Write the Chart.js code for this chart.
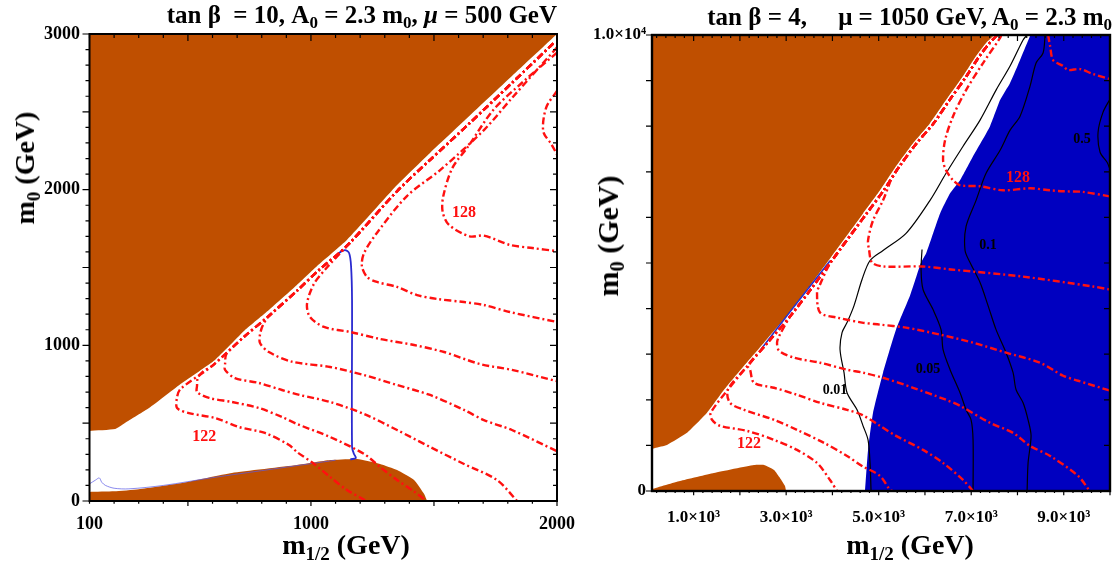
<!DOCTYPE html>
<html>
<head>
<meta charset="utf-8">
<script src="https://cdn.jsdelivr.net/npm/chart.js@4.4.1/dist/chart.umd.min.js"></script>
<style>
  html, body { margin: 0; padding: 0; background: #fff; }
  #wrap { position: relative; width: 1114px; height: 567px; overflow: hidden;
          font-family: "Liberation Serif", "Times New Roman", serif; font-weight: bold; color: #000; }
  canvas { position: absolute; top: 0; }
  .txt { position: absolute; white-space: pre; line-height: 1; }
  .txt sub { font-size: 68%; vertical-align: -0.3em; line-height: 0; }
  .rot { transform: translate(-50%, -50%) rotate(-90deg); }
</style>
</head>
<body>
<div id="wrap">
  <canvas id="left" width="600" height="567" style="left:0"></canvas>
  <canvas id="right" width="554" height="567" style="left:560px"></canvas>

  <div class="txt" style="right:557px; top:2px; font-size:25px">tan β  = 10, A<sub>0</sub> = 2.3 m<sub>0</sub>, <i>μ</i> = 500 GeV</div>
  <div class="txt" style="right:2px; top:4px; font-size:25px">tan β = 4,     μ = 1050 GeV, A<sub>0</sub> = 2.3 m<sub>0</sub></div>

  <div class="txt rot" style="left:25px; top:168px; font-size:28px">m<sub>0</sub> (GeV)</div>
  <div class="txt rot" style="left:608px; top:236px; font-size:30px">m<sub>0</sub> (GeV)</div>

  <div class="txt" style="left:346px; top:531px; font-size:28px; transform:translateX(-50%)">m<sub>1/2</sub> (GeV)</div>
  <div class="txt" style="left:910px; top:531px; font-size:28px; transform:translateX(-50%)">m<sub>1/2</sub> (GeV)</div>
</div>

<script>
const FONT = '"Liberation Serif", "Times New Roman", serif';
const BROWN = '#bf4f00';
const BLUE = '#0000c0';
const RED = '#ff1010';

// ---------- left panel: tan beta = 10, mu = 500 GeV ----------
const xTicksL = [100, 1000, 2000];
const yTicksL = [0, 1000, 2000, 3000];

const brownUpperL = [[100,450],[204,462],[244,501],[342,597],[476,758],[610,906],[732,1098],[829,1227],[943,1388],
  [1025,1510],[1146,1677],[1350,2030],[1484,2236],[1622,2441],[1817,2730],[2000,3000]];
const brownLowerL = [[100,58],[200,62],[300,76],[476,116],[679,180],[943,231],[1078,263],[1188,270],[1281,238],
  [1350,199],[1419,135],[1460,45],[1472,0]];

// red dash-dot line hugging the brown edge, from top right downwards
const edgeL = [[1985,2940],[1820,2690],[1630,2405],[1490,2200],[1350,1990],[1150,1645],[1030,1480],[943,1350],
  [830,1190],[732,1060],[600,870],[470,720]];
const tail122L = [[456,668],[456,597],[504,565],[610,533],[708,475],[813,437],[911,360],[943,315],[1013,238],
  [1078,154],[1146,71],[1226,0]];
const tail123L = [[560,830],[540,790],[537,740],[537,700],[586,662],[679,636],[789,597],[882,540],[943,495],
  [1078,411],[1216,302],[1281,218],[1350,135],[1420,60],[1470,0]];
const tail124L = [[680,985],[655,940],[651,880],[651,842],[691,790],[789,758],[882,713],[955,681],[1078,636],
  [1216,559],[1350,456],[1484,347],[1622,238],[1756,135],[1838,0]];
const tail125L = [[805,1130],[793,1070],[793,1015],[829,957],[923,895],[1078,861],[1216,809],[1350,745],
  [1484,681],[1622,585],[1703,520],[1817,456],[2000,320]];
const tail126L = [[1065,1500],[1012,1394],[984,1266],[996,1182],[1053,1118],[1159,1086],[1281,1041],[1419,1002],
  [1541,957],[1687,880],[1817,842],[2000,770]];
const c127L = [[2000,2914],[1817,2589],[1703,2383],[1525,2126],[1390,1959],[1268,1722],[1216,1593],[1207,1510],
  [1228,1439],[1268,1407],[1350,1375],[1431,1323],[1512,1298],[1622,1278],[1703,1259],[1808,1214],[2000,1150]];
const c128L = [[2000,2880],[1860,2690],[1740,2510],[1640,2280],[1575,2140],[1538,1960],[1535,1860],[1560,1775],
  [1645,1700],[1703,1705],[1808,1645],[1900,1625],[2000,1605]];
const c129L = [[2000,2634],[1956,2527],[1944,2376],[1978,2290],[2000,2226]];
const blueLineL = [[1100,1560],[1114,1593],[1138,1612],[1155,1593],[1163,1510],[1167,1291],[1167,347],
  [1175,302],[1183,276],[1160,268]];
const faintBlueL = [[100,110],[125,135],[140,148],[150,120],[165,100],[200,82],[260,78],[400,100],[600,150],
  [800,195],[1000,240],[1100,262]];
const redLabelsL = [['128', 1622, 1850], ['122', 566, 411]];

// ---------- right panel: tan beta = 4, mu = 1050 GeV ----------
const xTicksR = [1000, 3000, 5000, 7000, 9000];
const yTicksR = [0, 10000];

const brownUpperR = [[100,923],[165,945],[424,1011],[857,1275],[1289,1714],[1657,2220],[2089,2748],[2521,3253],
  [3019,3847],[3451,4418],[3884,5011],[4662,6088],[5029,6594],[5375,7122],[5743,7627],[6110,8067],[6456,8572],
  [6824,9100],[7105,9539],[7321,9825],[7500,10000]];
const brownLowerR = [[100,44],[705,220],[1440,396],[2305,571],[2521,571],[2738,462],[2867,286],[2975,110],[2997,0]];
const blueEdgeR = [[4705,0],[4770,901],[4878,1714],[5094,2594],[5375,3539],[5678,4286],[5916,5011],[6024,5209],
  [6175,5649],[6327,6088],[6543,6528],[6759,6814],[7040,7341],[7408,8001],[7624,8572],[7840,8946],[8056,9451],
  [8272,9979],[8290,10000],[10000,10000]];

const edgeR = [[7560,10000],[7400,9825],[7180,9539],[6900,9100],[6530,8572],[6190,8067],[5820,7627],[5450,7122],
  [5110,6594],[4740,6088],[3960,5011],[3530,4418],[3100,3847],[2600,3253],[2170,2748],[1740,2220],[1370,1714]];
const tail122R = [[1397,1561],[1570,1429],[2154,1319],[2738,1121],[3235,901],[3667,615],[3948,242],[4100,0]];
const tail123R = [[1786,1934],[2089,1780],[2738,1561],[3235,1341],[3819,1055],[4316,769],[4640,549],[5029,330],
  [5245,22],[5300,0]];
const tail124R = [[2219,2660],[2305,2374],[2738,2264],[3235,2110],[3732,1934],[4316,1780],[4640,1670],[5029,1429],
  [5375,1209],[5959,901],[6392,615],[6824,242],[7040,0]];
const tail125R = [[2850,3400],[2803,3250],[2846,3077],[3170,2923],[3732,2813],[4316,2660],[4662,2594],[5094,2484],
  [5743,2264],[6456,2000],[6759,1868],[7408,1495],[7905,1275],[8272,989],[8705,769],[9310,330],[9560,0]];
const tail126R = [[3720,4500],[3667,4352],[3732,3913],[4100,3803],[4640,3693],[5029,3649],[5591,3583],[6327,3429],
  [7040,3253],[7754,3033],[8489,2813],[8986,2528],[9310,2418],[10000,2200]];
const tail127R = [[5300,6900],[5094,6374],[4878,5935],[4770,5495],[4791,5297],[4856,5011],[5094,4924],[5937,4924],
  [6565,4858],[8100,4704],[9634,4484],[10000,4418]];
const c128R = [[7650,10000],[7624,9935],[7256,9385],[6889,8792],[6608,8220],[6435,7693],[6392,7253],[6456,7034],
  [6608,6814],[6759,6704],[7191,6682],[7689,6594],[8272,6638],[8705,6594],[9007,6572],[9400,6560],[10000,6460]];
const c129R = [[8662,10000],[8705,9759],[8770,9451],[8986,9320],[9094,9232],[9353,9253],[9634,9144],[10000,9034]];

const k001 = [[8208,10000],[8121,9891],[7840,9320],[7537,8792],[7191,8133],[6824,7561],[6456,6968],[6110,6374],
  [5591,5649],[5094,5275],[4813,5055],[4640,4638],[4467,4066],[4316,3693],[4208,3473],[4165,3099],[4251,2594],
  [4316,2154],[4532,1780],[4662,1429],[4770,1121],[4813,615],[4835,0]];
const k005 = [[5937,5297],[5916,4858],[5959,4418],[6175,3978],[6348,3539],[6392,3099],[6543,2660],[6759,2154],
  [6889,1780],[6997,1561],[7040,1121],[7040,0]];
const k01 = [[8597,10000],[8553,9605],[8402,9385],[8272,8880],[8056,8220],[7840,7913],[7624,7473],[7321,6968],
  [7105,6374],[6889,5803],[6867,5275],[6975,5011],[7191,4572],[7364,4066],[7537,3539],[7754,3033],[7905,2594],
  [7970,2220],[8121,1934],[8229,1561],[8294,1209],[8229,615],[8208,0]];
const k05 = [[10000,8594],[9850,8308],[9742,7869],[9786,7429],[9937,7209],[10000,7055]];
const blueLineR = [[2450,3100],[3100,3950],[3950,5050]];
const redLabelsR = [['128', 8013, 6858], ['122', 2197, 1033]];
const blackLabelsR = [['0.01', 4057, 2198], ['0.05', 6067, 2660], ['0.1', 7364, 5385], ['0.5', 9397, 7715]];

// ---------- helpers ----------
const pts = a => a.map(([x, y]) => ({x, y}));
const withEdge = (edge, n, tail) => edge.slice(0, n).concat(tail);

function area(a, fill, color) {
  return {data: pts(a), fill, backgroundColor: color, borderColor: color, borderWidth: 0,
          pointRadius: 0, tension: 0.15, order: 5};
}
function redLine(a) {
  return {data: pts(a), borderColor: RED, borderWidth: 2.4, borderDash: [7, 3, 2, 3],
          pointRadius: 0, tension: 0.3, fill: false, order: 1};
}
function solid(a, color, w, order) {
  return {data: pts(a), borderColor: color, borderWidth: w, pointRadius: 0, tension: 0.3, fill: false, order};
}

const sup = {3: '³', 4: '⁴'};
function sci(v) {
  if (v === 0) return '0';
  const e = Math.floor(Math.log10(v));
  return (v / 10 ** e).toFixed(1) + '×10' + sup[e];
}

function axis(min, max, ticks, fmt, size, pad, fixed, isX) {
  return {
    type: 'linear', min, max,
    grid: {display: false, drawTicks: false},
    border: {display: false},
    afterBuildTicks: s => { s.ticks = ticks.map(v => ({value: v})); },
    afterFit: s => {
      if (isX) s.height = fixed; else s.width = fixed;
      s.paddingLeft = s.paddingRight = s.paddingTop = s.paddingBottom = 0;
    },
    ticks: {autoSkip: false, maxRotation: 0, padding: pad, color: '#000',
            font: {family: FONT, weight: 'bold', size}, callback: fmt}
  };
}

const tickMarks = {
  id: 'tickMarks',
  afterDatasetsDraw(chart, args, o) {
    const {ctx, chartArea: a, scales: {x, y}} = chart;
    ctx.save();
    ctx.strokeStyle = '#000';
    ctx.lineWidth = 1.2;
    ctx.beginPath();
    o.xs.forEach(v => {
      const p = x.getPixelForValue(v);
      const L = v % o.xMajor === 0 ? o.major : o.minor;
      ctx.moveTo(p, a.bottom); ctx.lineTo(p, a.bottom + L * 0.7);
      ctx.moveTo(p, a.top); ctx.lineTo(p, a.top + L);
    });
    o.ys.forEach(v => {
      const p = y.getPixelForValue(v);
      const L = v % o.yMajor === 0 ? o.major : o.minor;
      ctx.moveTo(a.left, p); ctx.lineTo(a.left - L, p);
      ctx.moveTo(a.right, p); ctx.lineTo(a.right - L, p);
    });
    ctx.stroke();
    ctx.lineWidth = o.frame;
    ctx.strokeRect(a.left, a.top, a.right - a.left, a.bottom - a.top);
    ctx.restore();
  }
};

const contourLabels = {
  id: 'contourLabels',
  afterDatasetsDraw(chart, args, o) {
    const {ctx, scales: {x, y}} = chart;
    ctx.save();
    ctx.textAlign = 'center';
    ctx.textBaseline = 'middle';
    ctx.fillStyle = RED;
    ctx.font = 'bold 16px ' + FONT;
    o.red.forEach(([t, vx, vy]) => ctx.fillText(t, x.getPixelForValue(vx), y.getPixelForValue(vy)));
    ctx.fillStyle = '#000';
    ctx.font = 'bold 14px ' + FONT;
    o.black.forEach(([t, vx, vy]) => ctx.fillText(t, x.getPixelForValue(vx), y.getPixelForValue(vy)));
    ctx.restore();
  }
};

Chart.defaults.font.family = FONT;

function range(a, b, step) { const r = []; for (let v = a; v <= b; v += step) r.push(v); return r; }

// ---------- left chart ----------
new Chart(document.getElementById('left'), {
  type: 'line',
  data: {datasets: [
    area(brownUpperL, 'end', BROWN),
    area(brownLowerL, 'start', BROWN),
    solid(faintBlueL, 'rgba(90,90,230,0.7)', 1, 4),
    solid(blueLineL, '#2a2ad0', 1.8, 3),
    redLine(withEdge(edgeL, 12, tail122L)),
    redLine(withEdge(edgeL, 11, tail123L)),
    redLine(withEdge(edgeL, 10, tail124L)),
    redLine(withEdge(edgeL, 9, tail125L)),
    redLine(withEdge(edgeL, 6, tail126L)),
    redLine(c127L),
    redLine(c128L),
    redLine(c129L)
  ]},
  options: {
    responsive: false, animation: false, events: [],
    layout: {padding: {top: 34, right: 43, left: 0, bottom: 0}},
    plugins: {
      legend: {display: false}, tooltip: {enabled: false},
      tickMarks: {xs: range(100, 2000, 100), ys: range(0, 3000, 100), xMajor: 500, yMajor: 500,
                  minor: 4, major: 7, frame: 2},
      contourLabels: {red: redLabelsL, black: []}
    },
    scales: {
      x: axis(100, 2000, xTicksL, v => String(v), 18, 13, 66, true),
      y: axis(0, 3000, yTicksL, v => String(v), 18, 9.5, 89.5, false)
    }
  },
  plugins: [tickMarks, contourLabels]
});

// ---------- right chart ----------
new Chart(document.getElementById('right'), {
  type: 'line',
  data: {datasets: [
    area(brownUpperR, 'end', BROWN),
    area(brownLowerR, 'start', BROWN),
    area(blueEdgeR, 'start', BLUE),
    solid(blueLineR, '#2030d0', 1.6, 3),
    solid(k001, '#000', 1.2, 2),
    solid(k005, '#000', 1.2, 2),
    solid(k01, '#000', 1.2, 2),
    solid(k05, '#000', 1.2, 2),
    redLine(withEdge(edgeR, 17, tail122R)),
    redLine(withEdge(edgeR, 16, tail123R)),
    redLine(withEdge(edgeR, 15, tail124R)),
    redLine(withEdge(edgeR, 13, tail125R)),
    redLine(withEdge(edgeR, 11, tail126R)),
    redLine(withEdge(edgeR, 8, tail127R)),
    redLine(c128R),
    redLine(c129R)
  ]},
  options: {
    responsive: false, animation: false, events: [],
    layout: {padding: {top: 35, right: 4, left: 0, bottom: 0}},
    plugins: {
      legend: {display: false}, tooltip: {enabled: false},
      tickMarks: {xs: range(200, 10000, 200), ys: range(0, 10000, 1000), xMajor: 1000, yMajor: 1000,
                  minor: 3, major: 6, frame: 2.4},
      contourLabels: {red: redLabelsR, black: blackLabelsR}
    },
    scales: {
      x: axis(100, 10000, xTicksR, sci, 17, 16, 76, true),
      y: axis(0, 10000, yTicksR, sci, 17, 6, 92, false)
    }
  },
  plugins: [tickMarks, contourLabels]
});
</script>
</body>
</html>
